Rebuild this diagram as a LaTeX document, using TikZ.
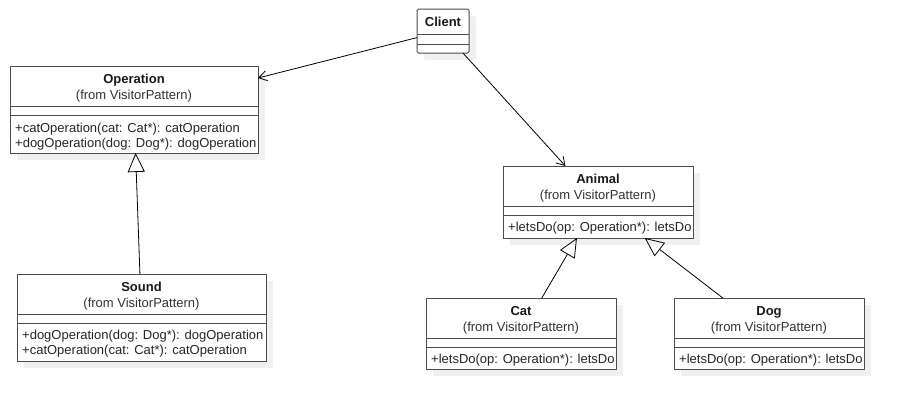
\documentclass[tikz,border=0pt]{standalone}
\usepackage{fontspec}
\setmainfont{Liberation Sans}
\usepackage{tikz}
\usetikzlibrary{positioning}
\usetikzlibrary{shadows}
\usetikzlibrary{arrows.meta}

\begin{document}
\begin{tikzpicture}[
  x=1pt, y=-1pt,
  font=\fontsize{13}{15}\selectfont,
  >={Straight Barb[length=8pt,width=10pt]}
]
\tikzset{
    classbox/.style = {rectangle, draw=black!70, line width=1pt, fill=white, anchor=north west,
      inner sep=0pt, outer sep=0pt, general shadow={fill=black!6, shadow xshift=7pt, shadow yshift=-7pt}},
    divider/.style = {draw=black!70, line width=1pt},
    classname/.style = {anchor=base, inner sep=0pt, font=\fontsize{13}{15}\selectfont\bfseries, text=black!90},
    classfrom/.style = {anchor=base, inner sep=0pt, text=black!80},
    methods/.style = {anchor=base west, inner sep=0pt, align=left, text=black!85},
    assoc/.style = {->, line width=0.8pt},
    inherit/.style = {-{Triangle[open,length=19pt,width=17pt]}, line width=0.8pt}
}
\useasboundingbox (0,0) rectangle (904,410);

% classes
\node[classbox, minimum width=52pt, minimum height=44pt, rounded corners=1.5pt] (client) at (417,9) {};
\node[classbox, minimum width=248pt, minimum height=87pt] (operation) at (10,66) {};
\node[classbox, minimum width=190pt, minimum height=72pt] (animal) at (503,166) {};
\node[classbox, minimum width=249pt, minimum height=87pt] (sound) at (17,274) {};
\node[classbox, minimum width=190pt, minimum height=71pt] (cat) at (426,298) {};
\node[classbox, minimum width=190pt, minimum height=71pt] (dog) at (674,298) {};

\foreach \c/\a/\b in {client/25/35, operation/40.5/49.5, animal/40/49, sound/40/49, cat/40/49, dog/40/49} {
  \draw[divider] ([yshift=-\a pt]\c.north west) -- ([yshift=-\a pt]\c.north east);
  \draw[divider] ([yshift=-\b pt]\c.north west) -- ([yshift=-\b pt]\c.north east);
}

% names
\node[classname] (client-name) at ([yshift=-17.5pt]client.north) {Client};
\foreach \c/\t in {operation/Operation, animal/Animal, sound/Sound, cat/Cat, dog/Dog} {
  \node[classname] (\c-name) at ([yshift=-17.5pt]\c.north) {\t};
  \node[classfrom] (\c-from) at ([yshift=-33pt]\c.north) {(from VisitorPattern)};
}

% operations (base = last line)
\node[methods] (operation-ops) at ([xshift=5pt,yshift=-81pt]operation.north west)
  {+catOperation(cat: Cat*): catOperation\\+dogOperation(dog: Dog*): dogOperation};
\node[methods] (sound-ops) at ([xshift=5pt,yshift=-80pt]sound.north west)
  {+dogOperation(dog: Dog*): dogOperation\\+catOperation(cat: Cat*): catOperation};
\foreach \c in {animal, cat, dog}
  \node[methods] (\c-ops) at ([xshift=5pt,yshift=-65.5pt]\c.north west) {+letsDo(op: Operation*): letsDo};

% relations
\draw[assoc] (client) -- (operation);
\draw[assoc] (client) -- (animal);
\draw[inherit] (sound) -- (operation);
\draw[inherit] (cat) -- (animal);
\draw[inherit] (dog) -- (animal);
\end{tikzpicture}
\end{document}
